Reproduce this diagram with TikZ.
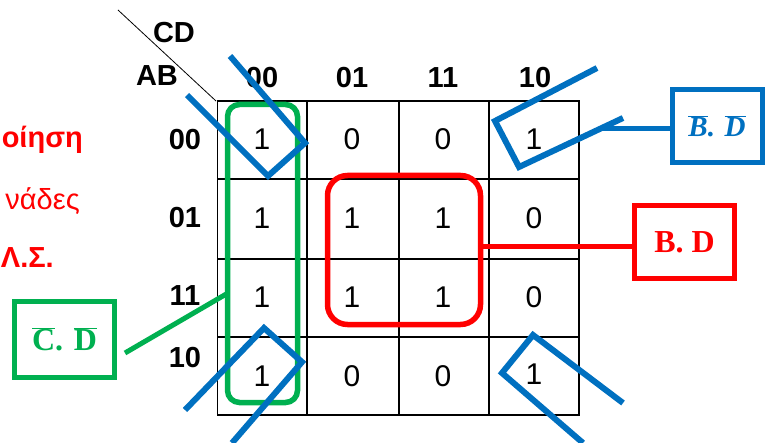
\documentclass[tikz,border=0pt]{standalone}
\usepackage{fontspec}
\setmainfont{Liberation Sans}
\newfontfamily\serifb{Liberation Serif}
\definecolor{kblue}{HTML}{0070C0}
\definecolor{kgreen}{HTML}{00B050}
\definecolor{kred}{HTML}{FF0000}
\begin{document}
\begin{tikzpicture}[x=1pt,y=-1pt,
  hdr/.style={font=\fontsize{29}{29}\selectfont\bfseries, inner sep=0pt},
  val/.style={font=\fontsize{30}{30}\selectfont, inner sep=0pt},
  side/.style={text=kred, inner sep=0pt, anchor=base east, font=\fontsize{29}{29}\selectfont},
  grid/.style={line width=1.5pt, black},
  loop/.style={line width=5.5pt, rounded corners=12pt, minimum width=#1},
  labbox/.style={draw, line width=5pt, inner sep=0pt, minimum width=100pt, minimum height=72pt,
     font=\fontsize{32}{32}\selectfont\serifb\bfseries},
  bluemark/.style={draw=kblue, line width=6pt, line join=miter}]
\useasboundingbox (0,0) rectangle (767,443);
% left cut-off texts
\node[side, font=\fontsize{29}{29}\selectfont\bfseries] (t1) at (83,148) {οίηση};
\node[side] (t2) at (80,210) {νάδες};
\node[side, font=\fontsize{29}{29}\selectfont\bfseries] (t3) at (54,267) {Λ.Σ.};
% corner labels
\coordinate (dA) at (118,10);
\coordinate (dB) at (216,101);
\draw[line width=0.8pt] (dA) -- (dB);
\node[hdr] (CD) at (174,33) {CD};
\node[hdr] (AB) at (157,76) {AB};
% grid
\draw[grid] (217.5,101) rectangle (579,415);
\foreach \x in {307,399,489} \draw[grid] (\x,101) -- (\x,415);
\foreach \y in {179,259,337} \draw[grid] (217.5,\y) -- (579,\y);
% headers
\node[hdr] (h1) at (262,78) {00};
\node[hdr] (h2) at (352,78) {01};
\node[hdr] (h3) at (443,78) {11};
\node[hdr] (h4) at (535,78) {10};
\node[hdr] (r1) at (185,140) {00};
\node[hdr] (r2) at (185,218) {01};
\node[hdr] (r3) at (185,296) {11};
\node[hdr] (r4) at (185,358) {10};
% values
\node[val] (c11) at (262,139) {1};
\node[val] (c12) at (352,139) {0};
\node[val] (c13) at (443,139) {0};
\node[val] (c14) at (534,139) {1};
\node[val] (c21) at (262,218) {1};
\node[val] (c22) at (352,218) {1};
\node[val] (c23) at (443,218) {1};
\node[val] (c24) at (534,218) {0};
\node[val] (c31) at (262,297) {1};
\node[val] (c32) at (352,297) {1};
\node[val] (c33) at (443,297) {1};
\node[val] (c34) at (534,297) {0};
\node[val] (c41) at (262,376) {1};
\node[val] (c42) at (352,376) {0};
\node[val] (c43) at (443,376) {0};
\node[val] (c44) at (534,374) {1};
% loops
\node[loop=70pt, draw=kgreen, minimum height=298pt] (gloop) at (262.5,253.5) {};
\node[loop=153pt, draw=kred, rounded corners=20pt, minimum height=149pt] (rloop) at (404,250) {};
% label boxes
\node[labbox, draw=kred, text=kred] (bd) at (684.5,242) {B. D};
\node[labbox, draw=kgreen, text=kgreen, minimum height=76pt] (cd) at (64.5,339.5) {$\overline{\mbox{C}}$. $\overline{\mbox{D}}$};
\node[labbox, draw=kblue, text=kblue, minimum width=90pt, minimum height=73pt,
      font=\fontsize{29}{29}\selectfont\serifb\bfseries\itshape] (nbd) at (717,126)
      {$\overline{\mbox{B}}$. $\overline{\mbox{D}}$};
% connectors
\draw[kred, line width=5pt] (rloop.east |- 0,247) -- (bd.west |- 0,247);
\coordinate (gs) at (125,353);
\coordinate (ge) at (228,293);
\draw[kgreen, line width=5pt] (gs) -- (ge);
\coordinate (bend) at (600,129);
\draw[kblue, line width=5pt] (nbd.west |- bend) -- (bend);
% blue corner marks
\draw[bluemark] (230,56) -- (305,143) -- (268,176) -- (187,95);
\draw[bluemark] (597,68) -- (495,121) -- (519,167) -- (623,118);
\draw[bluemark] (185,410) -- (264,328) -- (302,362) -- (232,443);
\draw[bluemark] (623,403) -- (533,335) -- (502,373) -- (583,443);
\end{tikzpicture}
\end{document}
